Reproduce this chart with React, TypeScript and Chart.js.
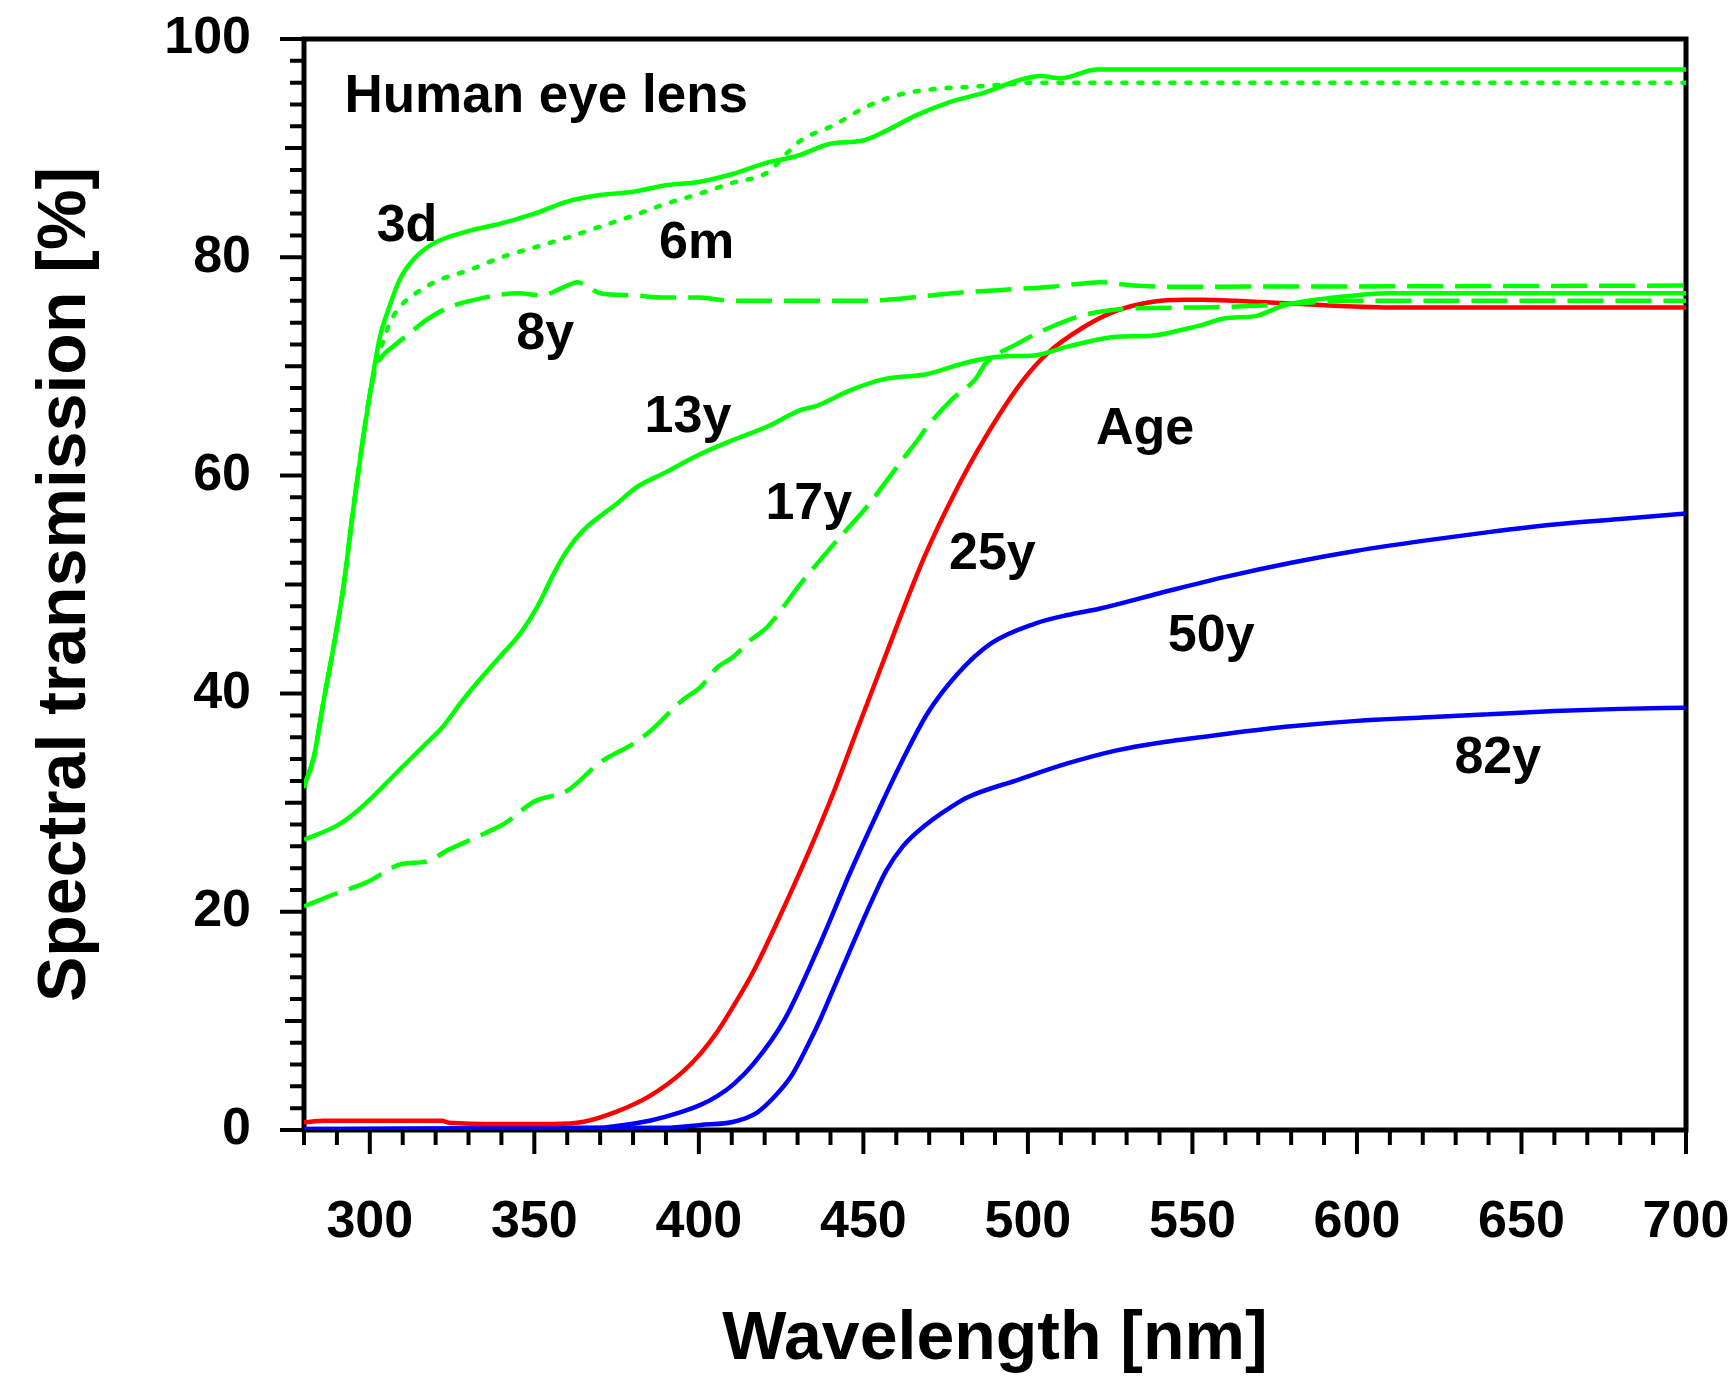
import React, { useEffect, useRef } from 'react';
import { Chart, registerables } from 'chart.js';

Chart.register(...registerables);

// ---------- data (wavelength in nm, transmission in %) ----------
const nm3d = [280, 283, 286, 289, 292, 295, 298, 300, 303, 306, 309, 313, 319, 330, 340, 350, 360, 370, 380, 390, 400, 410, 420, 430, 440, 450, 457, 466, 476, 487, 497, 504, 510, 521, 700];
const t3d = [31.5, 34.2, 39.4, 44.3, 49.8, 57.0, 63.5, 67.4, 72.6, 75.5, 77.9, 79.7, 81.2, 82.4, 83.1, 84.0, 85.1, 85.7, 86.0, 86.6, 86.9, 87.6, 88.6, 89.3, 90.4, 90.7, 91.6, 93.0, 94.2, 95.1, 96.2, 96.6, 96.4, 97.2, 97.2];

const nm6m = [280, 283, 286, 289, 292, 295, 298, 300, 302, 306, 309, 314, 321, 330, 340, 350, 360, 370, 380, 390, 400, 410, 421, 427, 431, 441, 451, 461, 471, 482, 492, 502, 700];
const t6m = [31.5, 34.2, 39.4, 44.3, 49.8, 57.0, 63.5, 67.4, 70.2, 73.9, 75.4, 76.7, 77.9, 78.8, 80.0, 80.9, 81.8, 82.8, 83.8, 84.9, 85.8, 86.8, 87.8, 89.6, 90.7, 92.1, 93.8, 94.9, 95.4, 95.6, 95.8, 96.0, 96.0];

const nm8y = [280, 283, 286, 289, 292, 295, 298, 300, 302, 304, 307, 312, 317, 324, 335, 345, 352, 360, 363, 370, 380, 390, 400, 410, 430, 451, 461, 477, 492, 507, 517, 522, 532, 543, 700];
const t8y = [31.5, 34.2, 39.4, 44.3, 49.8, 57.0, 63.5, 67.4, 70.0, 71.0, 71.8, 73.0, 74.2, 75.4, 76.3, 76.7, 76.5, 77.4, 77.7, 76.7, 76.5, 76.3, 76.3, 76.0, 76.0, 76.0, 76.2, 76.7, 77.0, 77.3, 77.6, 77.7, 77.4, 77.3, 77.4];

const nm13y = [280, 290, 294, 299, 307, 309, 317, 322, 327.5, 331.5, 339.6, 345.7, 350.8, 355.9, 359.9, 365, 375, 381, 390, 400, 410, 421, 431, 436, 446, 456, 469.5, 482, 492, 502, 512, 527, 537.5, 547.6, 553, 560, 569, 578, 593, 610, 700];
const t13y = [26.6, 27.9, 28.7, 30.0, 32.4, 33.0, 35.4, 36.9, 39.1, 40.6, 43.4, 45.5, 47.9, 51.0, 53.1, 55.0, 57.4, 58.9, 60.3, 61.9, 63.2, 64.5, 66.0, 66.4, 67.8, 68.8, 69.3, 70.4, 70.9, 71.0, 71.8, 72.7, 72.8, 73.4, 73.8, 74.4, 74.6, 75.6, 76.3, 76.7, 76.7];

const nm17y = [280, 290, 299, 310, 317, 324, 335, 341, 350, 360, 370, 380, 385, 395, 400.5, 405.6, 410.6, 415.7, 420.8, 431, 441, 451, 461, 466.4, 469.5, 477, 484, 487, 497, 507, 517, 532, 553, 573, 598, 700];
const t17y = [20.5, 21.7, 22.7, 24.4, 24.6, 25.7, 27.2, 28.1, 30.1, 31.1, 33.7, 35.4, 36.5, 39.4, 40.6, 42.4, 43.4, 44.9, 46.1, 50.1, 53.7, 57.1, 61.1, 63.2, 64.5, 67.0, 68.8, 70.2, 72.1, 73.6, 74.7, 75.3, 75.4, 75.6, 76.0, 76.0];

const nm25y = [280, 286, 322, 324, 340, 355, 365, 375, 385, 395, 400.5, 405.6, 410.6, 416.7, 426, 434, 441, 448, 457, 468.5, 477.6, 486.7, 498, 506, 517, 527, 537.5, 547.6, 553, 563, 583, 610, 700];
const t25y = [0.7, 0.85, 0.85, 0.67, 0.55, 0.55, 0.76, 1.68, 3.1, 5.3, 7.0, 9.0, 11.4, 14.6, 20.5, 25.9, 31.0, 36.6, 43.7, 52.5, 58.3, 63.3, 68.5, 71.2, 73.6, 75.1, 75.9, 76.1, 76.1, 76.0, 75.7, 75.4, 75.4];

const nm50y = [280, 370, 375, 385, 395, 400.5, 405.6, 410.6, 416.7, 426, 436, 446, 452, 456, 461.4, 469.5, 478.6, 488.8, 502, 512, 522, 540, 560, 580, 600, 620, 640, 660, 680, 700];
const t50y = [0.1, 0.2, 0.37, 0.85, 1.68, 2.3, 3.1, 4.2, 6.1, 10.1, 16.5, 23.6, 27.6, 30.2, 33.6, 38.2, 41.8, 44.6, 46.4, 47.2, 47.8, 49.2, 50.7, 52.0, 53.1, 54.0, 54.8, 55.5, 56.0, 56.5];

const nm82y = [280, 390, 400.5, 410.6, 417.7, 422.8, 428, 433, 437, 441, 445, 449, 453, 457, 462, 469.5, 476.6, 481.7, 497, 512, 527, 540, 560, 580, 600, 620, 640, 660, 680, 700];
const t82y = [0.1, 0.2, 0.46, 0.76, 1.6, 3.0, 4.9, 7.7, 10.2, 13.0, 15.8, 18.6, 21.3, 23.8, 26.0, 28.1, 29.6, 30.5, 32.1, 33.6, 34.8, 35.5, 36.3, 37.0, 37.5, 37.8, 38.1, 38.4, 38.6, 38.7];

// tick labels
const xTickValues = [300, 350, 400, 450, 500, 550, 600, 650, 700];
const yTickValues = [0, 20, 40, 60, 80, 100];

// curve labels (data coordinates)
const curveLabels = ['3d', '6m', '8y', '13y', '17y', '25y', 'Age', '50y', '82y'];
const curveLabelNm = [311.3, 399.3, 353.3, 396.7, 433.4, 489.2, 535.6, 555.7, 642.8];
const curveLabelPct = [83.0, 81.4, 73.1, 65.5, 57.5, 52.9, 64.4, 45.4, 34.2];
const panelTitle = 'Human eye lens';
const panelTitleNm = 292.3;
const panelTitlePct = 94.8;

const FONT = "'Liberation Sans', Arial, Helvetica, sans-serif";
const GREEN = '#00ff00';
const RED = '#ff0000';
const BLUE = '#0000ff';

const pts = (xs: number[], ys: number[]) => xs.map((x, i) => ({ x, y: ys[i] }));

const framePlugin = {
  id: 'frameTicks',
  beforeDatasetsDraw(chart: any) {
    const { ctx, chartArea: a, scales } = chart;
    const x = scales.x;
    const y = scales.y;
    ctx.save();
    ctx.strokeStyle = '#000';
    ctx.lineCap = 'butt';
    ctx.lineWidth = 4;
    ctx.beginPath();
    for (let v = 280; v <= 700; v += 10) {
      const px = x.getPixelForValue(v);
      const len = v % 50 === 0 ? 24 : 15;
      ctx.moveTo(px, a.bottom);
      ctx.lineTo(px, a.bottom + len);
    }
    for (let v = 0; v <= 100; v += 2) {
      const py = y.getPixelForValue(v);
      const len = v % 20 === 0 ? 24 : v % 10 === 0 ? 19 : 14;
      ctx.moveTo(a.left, py);
      ctx.lineTo(a.left - len, py);
    }
    ctx.stroke();
    ctx.lineWidth = 5;
    ctx.strokeRect(a.left, a.top, a.right - a.left, a.bottom - a.top);
    ctx.restore();
  },
  afterDatasetsDraw(chart: any) {
    const { ctx, scales } = chart;
    const x = scales.x;
    const y = scales.y;
    ctx.save();
    ctx.fillStyle = '#000';
    ctx.textBaseline = 'middle';
    ctx.textAlign = 'left';
    ctx.font = `bold 53px ${FONT}`;
    ctx.fillText(panelTitle, x.getPixelForValue(panelTitleNm), y.getPixelForValue(panelTitlePct) + 2);
    ctx.font = `bold 52px ${FONT}`;
    ctx.textAlign = 'center';
    curveLabels.forEach((t, i) => {
      ctx.fillText(t, x.getPixelForValue(curveLabelNm[i]), y.getPixelForValue(curveLabelPct[i]) + 2);
    });
    ctx.restore();
  },
};

const zeroPad = (s: any) => {
  s.paddingTop = 0;
  s.paddingBottom = 0;
  s.paddingLeft = 0;
  s.paddingRight = 0;
};

export default function App() {
  const ref = useRef<HTMLCanvasElement | null>(null);
  useEffect(() => {
    if (!ref.current) return;
    const line = (xs: number[], ys: number[], color: string, dash: number[] = [], cap: any = 'butt') => ({
      data: pts(xs, ys),
      borderColor: color,
      backgroundColor: color,
      borderWidth: 4.5,
      borderDash: dash,
      borderCapStyle: cap,
      borderJoinStyle: 'round',
      pointRadius: 0,
      fill: false,
      cubicInterpolationMode: 'monotone',
    });
    const chart = new Chart(ref.current, {
      type: 'line',
      data: {
        datasets: [
          line(nm8y, t8y, GREEN, [36, 12]),
          line(nm17y, t17y, GREEN, [36, 12]),
          line(nm6m, t6m, GREEN, [4, 12], 'round'),
          line(nm3d, t3d, GREEN),
          line(nm13y, t13y, GREEN),
          line(nm25y, t25y, RED),
          line(nm50y, t50y, BLUE),
          line(nm82y, t82y, BLUE),
        ] as any,
      },
      options: {
        animation: false,
        responsive: false,
        devicePixelRatio: 1,
        layout: { padding: { top: 39, right: 50, bottom: 0, left: 0 } },
        plugins: { legend: { display: false }, tooltip: { enabled: false }, title: { display: false } },
        scales: {
          x: {
            type: 'linear',
            min: 280,
            max: 700,
            grid: { display: false, drawTicks: false },
            border: { display: false },
            afterBuildTicks: (s: any) => {
              s.ticks = xTickValues.map((v) => ({ value: v }));
            },
            afterFit: (s: any) => {
              s.height = 246;
              zeroPad(s);
            },
            ticks: {
              autoSkip: false,
              maxRotation: 0,
              padding: 61,
              color: '#000',
              font: { family: FONT, size: 52, weight: 'bold' },
            },
            title: {
              display: true,
              text: 'Wavelength [nm]',
              color: '#000',
              font: { family: FONT, size: 68, weight: 'bold', lineHeight: 1 },
              padding: { top: 0, bottom: 2 },
            },
          },
          y: {
            type: 'linear',
            min: 0,
            max: 100,
            grid: { display: false, drawTicks: false },
            border: { display: false },
            afterBuildTicks: (s: any) => {
              s.ticks = yTickValues.map((v) => ({ value: v }));
            },
            afterFit: (s: any) => {
              s.width = 304;
              zeroPad(s);
            },
            ticks: {
              autoSkip: false,
              padding: 53,
              color: '#000',
              font: { family: FONT, size: 52, weight: 'bold' },
            },
            title: {
              display: true,
              text: 'Spectral transmission [%]',
              color: '#000',
              font: { family: FONT, size: 68, weight: 'bold', lineHeight: 1 },
              padding: { top: 32, bottom: 0 },
            },
          },
        },
      } as any,
      plugins: [framePlugin],
    });
    return () => chart.destroy();
  }, []);
  return (
    <div style={{ position: 'absolute', left: 0, top: 0, width: 1736, height: 1376, background: '#fff' }}>
      <canvas ref={ref} width={1736} height={1376} style={{ display: 'block', width: 1736, height: 1376 }} />
    </div>
  );
}
